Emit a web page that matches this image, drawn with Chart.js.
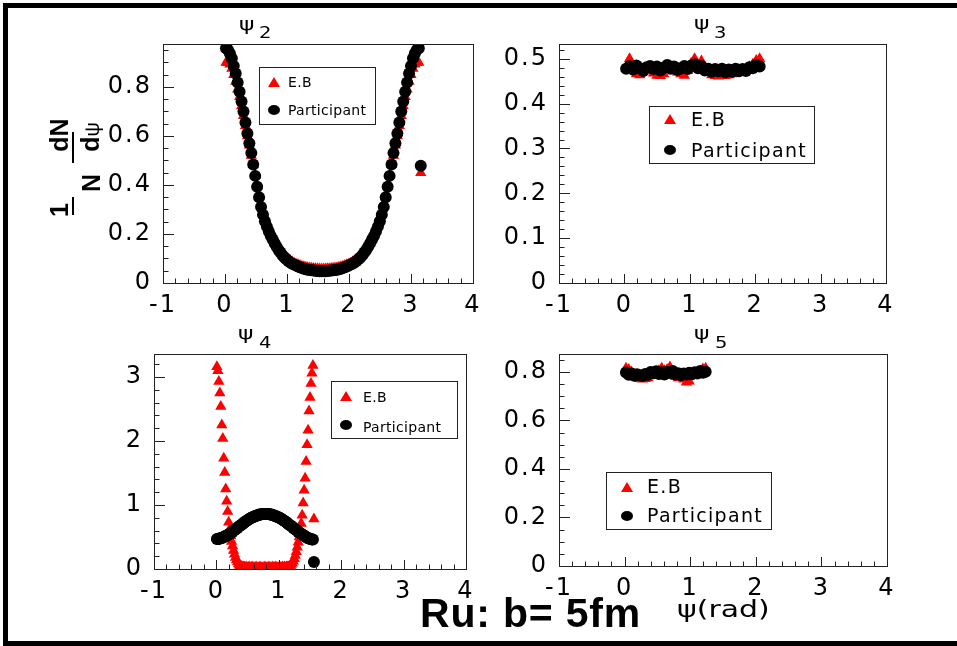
<!DOCTYPE html>
<html>
<head>
<meta charset="utf-8">
<script src="https://cdn.jsdelivr.net/npm/chart.js@4.4.1/dist/chart.umd.min.js"></script>
<style>
  html, body { margin: 0; padding: 0; background: #fff; }
  #page { position: relative; width: 957px; height: 646px; overflow: hidden; background: #fff; }
  canvas { position: absolute; left: 0; top: 0; }
  .frame { position: absolute; left: 3px; top: 3px; width: 960px; height: 643px; box-sizing: border-box;
           border: 5px solid #000; border-right: none; }
  .txt { position: absolute; white-space: nowrap; color: #000; }
  .psi { font: 18px "DejaVu Sans"; line-height: 18px; transform: scaleX(1.3); transform-origin: left top; }
  .sub { font: 15px "DejaVu Sans"; line-height: 15px; transform: scaleX(1.3); transform-origin: left top; }
  .leg { position: absolute; border: 1px solid #222; background: #fff; box-sizing: border-box; }
  .lsm { font: 14px "DejaVu Sans"; line-height: 14px; letter-spacing: 0.3px; }
  .lbg { font: 19px "DejaVu Sans"; line-height: 19px; letter-spacing: 1.3px; }
  .tri { position: absolute; width: 0; height: 0; border-left: 6px solid transparent; border-right: 6px solid transparent;
         border-bottom: 10px solid #f00; transform: translate(-50%, -50%); }
  .dot { position: absolute; width: 12px; height: 10px; border-radius: 50%; background: #000; transform: translate(-50%, -50%); }
  .rot { position: absolute; font: bold 25px "Liberation Sans"; line-height: 25px; white-space: nowrap;
         transform: translate(-50%, -50%) rotate(-90deg); }
  .bar { position: absolute; width: 2px; background: #000; }
</style>
</head>
<body>
<div id="page">
  <canvas id="c2" width="957" height="646"></canvas>
  <canvas id="c3" width="957" height="646"></canvas>
  <canvas id="c4" width="957" height="646"></canvas>
  <canvas id="c5" width="957" height="646"></canvas>

  <div class="frame"></div>

  <!-- pad titles -->
  <div class="txt psi" style="left:239px;top:15px">ψ</div><div class="txt sub" style="left:259px;top:26px">2</div>
  <div class="txt psi" style="left:694px;top:14px">ψ</div><div class="txt sub" style="left:714px;top:26px">3</div>
  <div class="txt psi" style="left:238px;top:324px">ψ</div><div class="txt sub" style="left:259px;top:336px">4</div>
  <div class="txt psi" style="left:694px;top:324px">ψ</div><div class="txt sub" style="left:715px;top:336px">5</div>

  <!-- y axis title: 1/N dN/dpsi -->
  <div class="rot" style="left:59px;top:210px">1</div>
  <div class="rot" style="left:59px;top:135px">dN</div>
  <div class="rot" style="left:91px;top:183px">N</div>
  <div class="rot" style="left:91px;top:137px">d<span style="font-weight:normal;font-size:20px">ψ</span></div>
  <div class="bar" style="left:72px;top:132px;height:31px"></div>
  <div class="bar" style="left:72px;top:197px;height:18px"></div>

  <!-- legends -->
  <div class="leg" style="left:259px;top:67px;width:117px;height:58px"></div>
  <div class="tri" style="left:274px;top:82px"></div>
  <div class="dot" style="left:274px;top:110px"></div>
  <div class="txt lsm" style="left:288px;top:75px">E.B</div>
  <div class="txt lsm" style="left:288px;top:103px">Participant</div>

  <div class="leg" style="left:649px;top:106px;width:166px;height:58px"></div>
  <div class="tri" style="left:670px;top:119px"></div>
  <div class="dot" style="left:670px;top:150px"></div>
  <div class="txt lbg" style="left:691px;top:110px">E.B</div>
  <div class="txt lbg" style="left:691px;top:141px">Participant</div>

  <div class="leg" style="left:331px;top:381px;width:127px;height:58px"></div>
  <div class="tri" style="left:346px;top:396px"></div>
  <div class="dot" style="left:346px;top:425px"></div>
  <div class="txt lsm" style="left:363px;top:390px">E.B</div>
  <div class="txt lsm" style="left:363px;top:420px">Participant</div>

  <div class="leg" style="left:606px;top:472px;width:166px;height:58px"></div>
  <div class="tri" style="left:627px;top:487px"></div>
  <div class="dot" style="left:627px;top:516px"></div>
  <div class="txt lbg" style="left:647px;top:477px">E.B</div>
  <div class="txt lbg" style="left:647px;top:506px">Participant</div>

  <!-- x axis title and caption -->
  <div class="txt" style="left:677px;top:598px;font:23px 'DejaVu Sans';line-height:23px;transform:scaleX(1.3);transform-origin:left top">ψ(rad)</div>
  <div class="txt" style="left:420px;top:593px;font:bold 41px 'Liberation Sans';line-height:41px;letter-spacing:0.8px">Ru: b= 5fm</div>
</div>

<script>
// ---------- data ----------
const xTicks = [-1, 0, 1, 2, 3, 4];

// psi_2 : 100 bins on [0, pi] plus the half-filled overflow bin
const psi2Bins = [0, 3.1730, 101];
const psi2YTicks = [0, 0.2, 0.4, 0.6, 0.8];
const psi2EB = [
  0.900, 0.898, 0.892, 0.875, 0.850, 0.822, 0.790, 0.760, 0.722, 0.682,
  0.642, 0.600, 0.562, 0.520, 0.482, 0.440, 0.395, 0.352, 0.318, 0.288,
  0.262, 0.240, 0.220, 0.202, 0.187, 0.172, 0.157, 0.143, 0.131, 0.120,
  0.111, 0.103, 0.097, 0.091, 0.086, 0.081, 0.077, 0.074, 0.071, 0.068,
  0.066, 0.064, 0.062, 0.061, 0.060, 0.059, 0.058, 0.058, 0.057, 0.057,
  0.057, 0.057, 0.058, 0.058, 0.059, 0.060, 0.061, 0.062, 0.064, 0.066,
  0.068, 0.071, 0.074, 0.077, 0.081, 0.086, 0.091, 0.097, 0.103, 0.111,
  0.120, 0.131, 0.143, 0.157, 0.172, 0.187, 0.202, 0.220, 0.240, 0.262,
  0.288, 0.318, 0.352, 0.395, 0.440, 0.482, 0.520, 0.562, 0.600, 0.642,
  0.682, 0.722, 0.760, 0.790, 0.822, 0.850, 0.875, 0.892, 0.898, 0.900,
  0.450];
const psi2Part = [
  0.958, 0.952, 0.937, 0.917, 0.885, 0.855, 0.818, 0.780, 0.740, 0.700,
  0.655, 0.610, 0.570, 0.530, 0.483, 0.437, 0.393, 0.350, 0.310, 0.278,
  0.252, 0.230, 0.210, 0.192, 0.177, 0.162, 0.148, 0.135, 0.124, 0.113,
  0.104, 0.097, 0.090, 0.084, 0.079, 0.075, 0.071, 0.067, 0.064, 0.061,
  0.058, 0.056, 0.054, 0.053, 0.052, 0.051, 0.050, 0.049, 0.048, 0.048,
  0.048, 0.048, 0.049, 0.050, 0.051, 0.052, 0.053, 0.054, 0.056, 0.058,
  0.061, 0.064, 0.067, 0.071, 0.075, 0.079, 0.084, 0.090, 0.097, 0.104,
  0.113, 0.124, 0.135, 0.148, 0.162, 0.177, 0.192, 0.210, 0.230, 0.252,
  0.278, 0.310, 0.350, 0.393, 0.437, 0.483, 0.530, 0.570, 0.610, 0.655,
  0.700, 0.740, 0.780, 0.818, 0.855, 0.885, 0.917, 0.937, 0.952, 0.958,
  0.478];

// psi_3 : 40 bins on [0, 2pi/3]
const psi3Bins = [0, 2.0944, 40];
const psi3YTicks = [0, 0.1, 0.2, 0.3, 0.4, 0.5];
const psi3EB = [0.478, 0.500, 0.482, 0.466, 0.464, 0.472, 0.480, 0.474, 0.468, 0.463,
  0.462, 0.466, 0.478, 0.484, 0.476, 0.470, 0.466, 0.463, 0.474, 0.490,
  0.500, 0.487, 0.495, 0.480, 0.470, 0.464, 0.462, 0.461, 0.463, 0.462,
  0.464, 0.466, 0.470, 0.474, 0.470, 0.476, 0.482, 0.488, 0.496, 0.500];
const psi3Part = [0.478, 0.484, 0.476, 0.485, 0.479, 0.473, 0.481, 0.484, 0.477, 0.483,
  0.474, 0.480, 0.486, 0.478, 0.483, 0.475, 0.479, 0.484, 0.477, 0.485,
  0.488, 0.479, 0.484, 0.474, 0.478, 0.471, 0.477, 0.472, 0.478, 0.470,
  0.476, 0.471, 0.478, 0.472, 0.477, 0.473, 0.481, 0.479, 0.487, 0.483];

// psi_4 : 100 bins on [0, pi/2]
const psi4Bins = [0, 1.5708, 100];
const psi4YTicks = [0, 1, 2, 3];
const psi4EB = [3.16, 3.10, 2.93, 2.75, 2.54, 2.25, 2.04, 1.73, 1.51, 1.25,
  1.06, 0.90, 0.73, 0.62, 0.52, 0.43, 0.36, 0.29, 0.23, 0.18,
  0.14, 0.11, 0.08, 0.06, 0.05, 0.04, 0.03, 0.03, 0.03, 0.02,
  0.03, 0.02, 0.02, 0.03, 0.02, 0.02, 0.03, 0.02, 0.02, 0.02,
  0.03, 0.02, 0.02, 0.02, 0.03, 0.02, 0.02, 0.02, 0.02, 0.03,
  0.02, 0.02, 0.02, 0.03, 0.02, 0.02, 0.02, 0.03, 0.02, 0.02,
  0.03, 0.02, 0.02, 0.02, 0.03, 0.02, 0.02, 0.03, 0.02, 0.03,
  0.02, 0.03, 0.03, 0.03, 0.04, 0.05, 0.07, 0.09, 0.12, 0.16,
  0.21, 0.27, 0.34, 0.42, 0.50, 0.60, 0.71, 0.84, 1.03, 1.23,
  1.42, 1.68, 1.94, 2.17, 2.47, 2.68, 2.90, 3.06, 3.18, 0.78];
const psi4Part = [0.47, 0.47, 0.47, 0.48, 0.48, 0.49, 0.49, 0.50, 0.51, 0.51,
  0.52, 0.53, 0.54, 0.55, 0.56, 0.57, 0.58, 0.60, 0.61, 0.62,
  0.63, 0.64, 0.66, 0.67, 0.68, 0.69, 0.70, 0.72, 0.73, 0.74,
  0.75, 0.76, 0.77, 0.78, 0.79, 0.80, 0.81, 0.81, 0.82, 0.83,
  0.83, 0.84, 0.84, 0.85, 0.85, 0.85, 0.86, 0.86, 0.86, 0.86,
  0.86, 0.86, 0.86, 0.86, 0.85, 0.85, 0.85, 0.84, 0.84, 0.83,
  0.83, 0.82, 0.81, 0.81, 0.80, 0.79, 0.78, 0.77, 0.76, 0.75,
  0.74, 0.73, 0.72, 0.70, 0.69, 0.68, 0.67, 0.66, 0.64, 0.63,
  0.62, 0.61, 0.60, 0.58, 0.57, 0.56, 0.55, 0.54, 0.53, 0.52,
  0.51, 0.50, 0.49, 0.48, 0.48, 0.47, 0.47, 0.46, 0.46, 0.11];

// psi_5 : 30 bins on [0, 2pi/5]
const psi5Bins = [0, 1.2566, 30];
const psi5YTicks = [0, 0.2, 0.4, 0.6, 0.8];
const psi5EB = [0.815, 0.810, 0.800, 0.790, 0.780, 0.772, 0.770, 0.772, 0.775, 0.785,
  0.795, 0.800, 0.805, 0.815, 0.805, 0.810, 0.820, 0.800, 0.780, 0.775,
  0.778, 0.770, 0.758, 0.762, 0.785, 0.790, 0.795, 0.800, 0.812, 0.815];
const psi5Part = [0.798, 0.788, 0.794, 0.784, 0.791, 0.786, 0.783, 0.792, 0.788, 0.800,
  0.795, 0.803, 0.792, 0.799, 0.789, 0.801, 0.796, 0.804, 0.790, 0.795,
  0.786, 0.794, 0.789, 0.797, 0.791, 0.799, 0.794, 0.804, 0.797, 0.801];

// ---------- helpers ----------
function binCenters(lo, hi, n) {
  const w = (hi - lo) / n;
  return Array.from({ length: n }, (_, i) => lo + (i + 0.5) * w);
}
function toPoints(bins, vals) {
  const xs = binCenters(bins[0], bins[1], bins[2]);
  return vals.map((v, i) => ({ x: xs[i], y: v }));
}
function fmt(v) {
  return String(Math.round(v * 100) / 100);
}

// ROOT-like frame with inward major/minor ticks on the bottom and left axes
const frameTicks = {
  id: 'frameTicks',
  beforeDraw(chart) {
    chart.ctx.letterSpacing = '2px';
  },
  afterDraw(chart, args, o) {
    const { ctx, chartArea: a } = chart;
    const xs = chart.scales.x, ys = chart.scales.y;
    const isMajor = (v, step) => Math.abs(v / step - Math.round(v / step)) < 1e-6;
    ctx.save();
    ctx.strokeStyle = '#222';
    ctx.lineWidth = 1;
    ctx.beginPath();
    const nx = Math.round((xs.max - xs.min) / o.xMinor);
    for (let i = 0; i <= nx; i++) {
      const v = xs.min + i * o.xMinor;
      const px = Math.round(xs.getPixelForValue(v)) + 0.5;
      ctx.moveTo(px, a.bottom);
      ctx.lineTo(px, a.bottom - (isMajor(v, o.xMajor) ? 9 : 4.5));
    }
    const ny = Math.floor((ys.max - ys.min) / o.yMinor + 1e-6);
    for (let i = 0; i <= ny; i++) {
      const v = ys.min + i * o.yMinor;
      const py = Math.round(ys.getPixelForValue(v)) + 0.5;
      ctx.moveTo(a.left, py);
      ctx.lineTo(a.left + (isMajor(v, o.yMajor) ? 11 : 5.5), py);
    }
    ctx.stroke();
    ctx.strokeRect(Math.round(a.left) + 0.5, Math.round(a.top) + 0.5,
      Math.round(a.right - a.left), Math.round(a.bottom - a.top));
    ctx.restore();
  }
};

const W = 957, H = 646, Y_AXIS_W = 60, X_AXIS_H = 30;
const tickFont = { family: 'DejaVu Sans', size: 24 };

function makePanel(id, area, yMax, yTicks, yMajor, yMinor, bins, eb, part) {
  return new Chart(document.getElementById(id), {
    type: 'scatter',
    data: {
      datasets: [
        {
          label: 'E.B',
          data: toPoints(bins, eb),
          pointStyle: 'triangle',
          pointRadius: 6.5,
          pointBackgroundColor: '#ff0000',
          pointBorderWidth: 0,
          order: 2
        },
        {
          label: 'Participant',
          data: toPoints(bins, part),
          pointStyle: 'circle',
          pointRadius: 6,
          pointBackgroundColor: '#000000',
          pointBorderWidth: 0,
          order: 1
        }
      ]
    },
    options: {
      responsive: false,
      animation: false,
      devicePixelRatio: 1,
      events: [],
      layout: {
        padding: {
          left: area[0] - Y_AXIS_W,
          right: W - area[1],
          top: area[2],
          bottom: H - area[3] - X_AXIS_H
        }
      },
      plugins: {
        legend: { display: false },
        tooltip: { enabled: false },
        frameTicks: { xMajor: 1, xMinor: 0.2, yMajor: yMajor, yMinor: yMinor }
      },
      scales: {
        x: {
          type: 'linear',
          min: -1,
          max: 4,
          grid: { display: false },
          border: { display: false },
          afterBuildTicks: (s) => { s.ticks = xTicks.map((v) => ({ value: v })); },
          afterFit: (s) => { s.height = X_AXIS_H; },
          ticks: { font: tickFont, color: '#000', padding: 0, maxRotation: 0, autoSkip: false, callback: fmt }
        },
        y: {
          type: 'linear',
          min: 0,
          max: yMax,
          grid: { display: false },
          border: { display: false },
          afterBuildTicks: (s) => { s.ticks = yTicks.map((v) => ({ value: v })); },
          afterFit: (s) => { s.width = Y_AXIS_W; },
          ticks: { font: tickFont, color: '#000', padding: 3, autoSkip: false, callback: fmt }
        }
      }
    },
    plugins: [frameTicks]
  });
}

makePanel('c2', [163, 473, 44, 283], 0.975, psi2YTicks, 0.2, 0.05, psi2Bins, psi2EB, psi2Part);
makePanel('c3', [559, 886, 44, 283], 0.533, psi3YTicks, 0.1, 0.02, psi3Bins, psi3EB, psi3Part);
makePanel('c4', [154, 466, 354, 569], 3.36, psi4YTicks, 1, 0.2, psi4Bins, psi4EB, psi4Part);
makePanel('c5', [559, 887, 354, 566], 0.874, psi5YTicks, 0.2, 0.05, psi5Bins, psi5EB, psi5Part);
</script>
</body>
</html>
